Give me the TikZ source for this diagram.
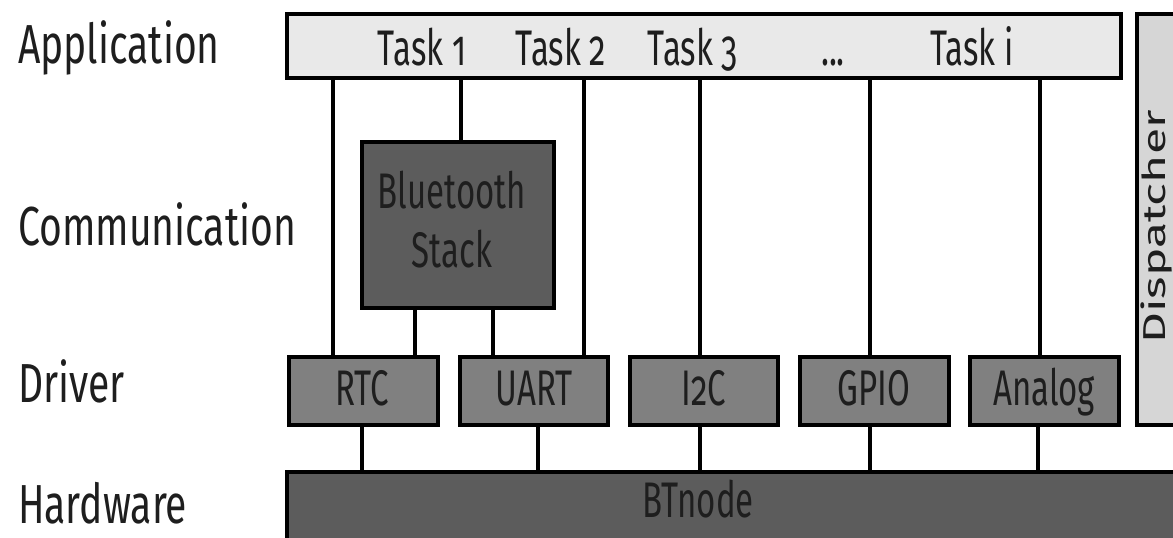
\documentclass[tikz,border=0pt]{standalone}
\usepackage{graphicx}
\usepackage{fontspec}
\setmainfont{Fira Sans}[Numbers=OldStyle]
\newcommand\sqz[1]{\scalebox{0.66}[1]{#1}}
\newcommand\sqs[1]{\scalebox{0.71}[1]{#1}}
\definecolor{appfill}{HTML}{E9E9E9}
\definecolor{dispfill}{HTML}{D6D6D6}
\definecolor{darkfill}{HTML}{5C5C5C}
\definecolor{drvfill}{HTML}{808080}
\definecolor{txt}{HTML}{1E1E1E}
\begin{document}
\begin{tikzpicture}[x=1pt,y=-1pt,
  box/.style={draw=black,line width=4pt,inner sep=0pt,minimum width=#1,anchor=center},
  drv/.style={box=#1,fill=drvfill,minimum height=68pt},
  conn/.style={draw=black,line width=3.5pt},
  lbl/.style={inner sep=0pt,anchor=base,text=txt,font=\fontsize{50}{60}\selectfont},
  side/.style={inner sep=0pt,anchor=base west,text=txt,font=\fontsize{55}{66}\selectfont}]
\useasboundingbox (0,0) rectangle (1173,538);
% boxes
\node[box=834pt,fill=appfill,minimum height=64pt] (app) at (704,46) {};
\node[box=52pt,fill=dispfill,minimum height=411pt] (disp) at (1163,219.5) {};
\node[box=192pt,fill=darkfill,minimum height=166pt] (bt) at (458,225) {};
\node[drv=149pt] (rtc) at (363.5,391) {};
\node[drv=148pt] (uart) at (534,391) {};
\node[drv=148pt] (iic) at (704,391) {};
\node[drv=149pt] (gpio) at (874.5,391) {};
\node[drv=149pt] (analog) at (1044.5,391) {};
\node[box=901pt,fill=darkfill,minimum height=71pt] (btnode) at (737.5,507.5) {};
% connectors
\draw[conn] (app.south -| 333,0) -- (rtc.north -| 333,0);
\draw[conn] (app.south -| 461,0) -- (bt.north -| 461,0);
\draw[conn] (app.south -| 584,0) -- (uart.north -| 584,0);
\draw[conn] (app.south -| 700,0) -- (iic.north -| 700,0);
\draw[conn] (app.south -| 870,0) -- (gpio.north -| 870,0);
\draw[conn] (app.south -| 1040,0) -- (analog.north -| 1040,0);
\draw[conn] (bt.south -| 415,0) -- (rtc.north -| 415,0);
\draw[conn] (bt.south -| 493,0) -- (uart.north -| 493,0);
\draw[conn] (rtc.south -| 362,0) -- (btnode.north -| 362,0);
\draw[conn] (uart.south -| 538,0) -- (btnode.north -| 538,0);
\draw[conn] (iic.south -| 700,0) -- (btnode.north -| 700,0);
\draw[conn] (gpio.south -| 870,0) -- (btnode.north -| 870,0);
\draw[conn] (analog.south -| 1038,0) -- (btnode.north -| 1038,0);
% texts in boxes
\node[lbl] (t1) at (422,65) {\sqz{Task 1}};
\node[lbl] (t2) at (561,65) {\sqz{Task 2}};
\node[lbl] (t3) at (693,65) {\sqz{Task 3}};
\node[lbl] (tdots) at (833,65) {\sqz{...}};
\node[lbl] (ti) at (972,65) {\sqz{Task i}};
\node[lbl] (bt1) at (452,208) {\sqz{Bluetooth}};
\node[lbl] (bt2) at (452,267) {\sqz{Stack}};
\node[lbl] (lrtc) at (362,405) {\sqz{RTC}};
\node[lbl] (luart) at (534,405) {\sqz{UART}};
\node[lbl] (liic) at (704,405) {\sqz{I2C}};
\node[lbl] (lgpio) at (874,405) {\sqz{GPIO}};
\node[lbl] (lanalog) at (1044,405) {\sqz{Analog}};
\node[lbl] (lbtnode) at (698,517) {\sqz{BTnode}};
\node[lbl,anchor=center,font=\fontsize{48}{58}\selectfont] (ldisp) at (1157,227) {\scalebox{0.66}[1]{\rotatebox{90}{Dispatcher}}};
% side labels
\node[side] (sapp) at (18,63) {\sqs{Application}};
\node[side] (scom) at (18,245) {\sqs{Communication}};
\node[side] (sdrv) at (18,402) {\sqs{Driver}};
\node[side] (shw) at (18,523) {\sqs{Hardware}};
\end{tikzpicture}
\end{document}
